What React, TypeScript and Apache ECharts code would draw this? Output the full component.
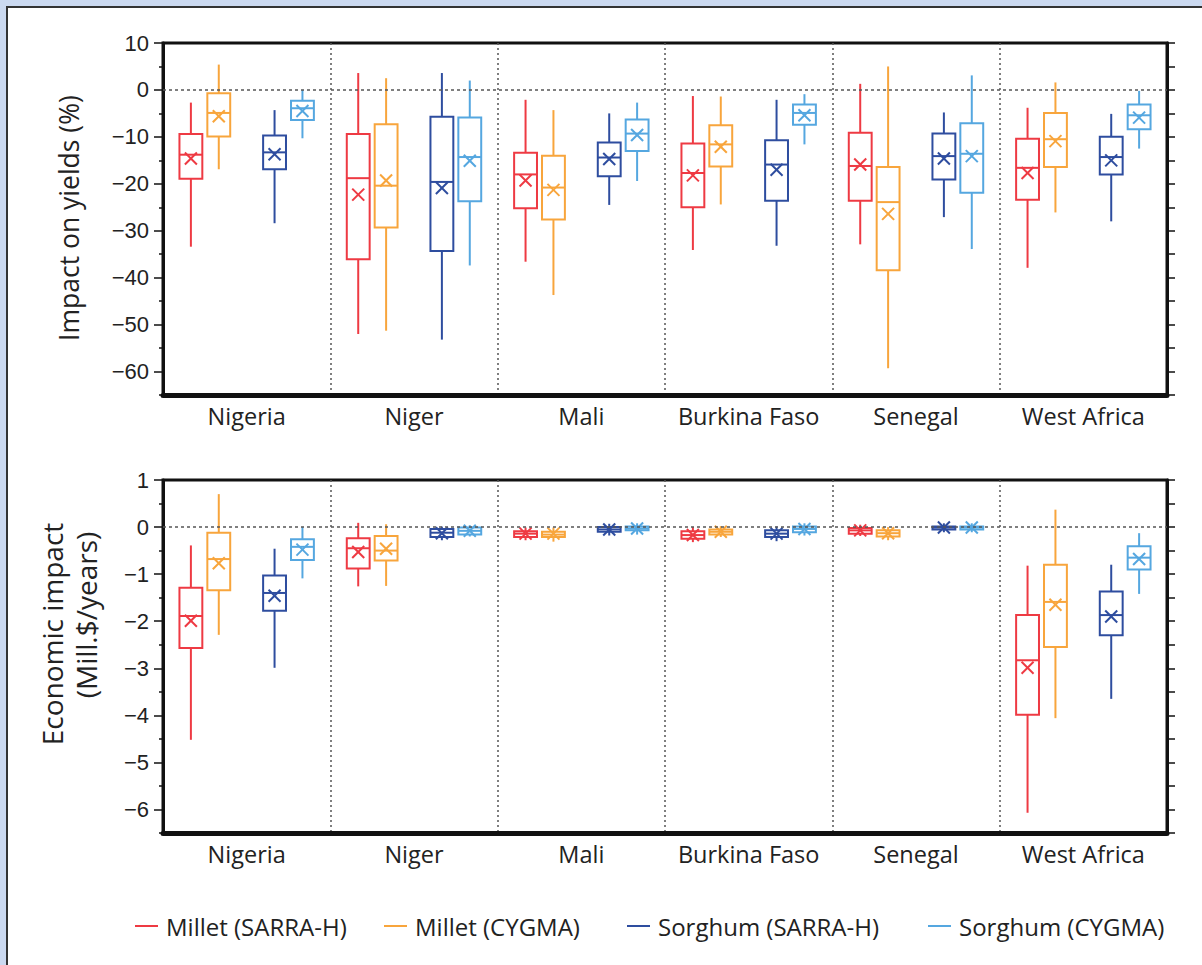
import React, { useEffect, useRef } from "react";
import * as echarts from "echarts";

const countries = ["Nigeria", "Niger", "Mali", "Burkina Faso", "Senegal", "West Africa"];
const seriesNames = ["Millet (SARRA-H)", "Millet (CYGMA)", "Sorghum (SARRA-H)", "Sorghum (CYGMA)"];
const colors = ["#ee3a43", "#f8a53c", "#2e4d9f", "#55a7e0"];

// rows per country: [min, q1, median, q3, max, mean]
const milletSarraYield = [
  [-33.4, -18.9, -13.8, -9.4, -2.7, -14.6],
  [-52.0, -36.1, -18.8, -9.4, 3.6, -22.3],
  [-36.6, -25.2, -18.0, -13.4, -2.1, -19.3],
  [-34.1, -25.0, -17.7, -11.4, -1.3, -18.2],
  [-32.9, -23.6, -16.2, -9.1, 1.3, -15.9],
  [-37.9, -23.4, -16.6, -10.4, -3.8, -17.7],
];
const milletCygmaYield = [
  [-16.9, -9.9, -4.9, -0.7, 5.4, -5.6],
  [-51.3, -29.3, -20.4, -7.3, 2.5, -19.3],
  [-43.7, -27.6, -20.8, -14.0, -4.3, -21.3],
  [-24.4, -16.3, -11.6, -7.5, -1.4, -12.1],
  [-59.3, -38.4, -23.9, -16.4, 5.0, -26.4],
  [-26.1, -16.4, -10.5, -4.9, 1.6, -10.9],
];
const sorghumSarraYield = [
  [-28.4, -16.9, -13.3, -9.7, -4.3, -13.7],
  [-53.2, -34.3, -19.6, -5.7, 3.6, -20.9],
  [-24.5, -18.4, -14.4, -11.2, -5.0, -14.7],
  [-33.2, -23.6, -15.9, -10.7, -2.1, -17.0],
  [-27.1, -19.1, -14.1, -9.3, -4.8, -14.6],
  [-28.0, -18.0, -14.3, -10.0, -5.1, -15.0],
];
const sorghumCygmaYield = [
  [-10.3, -6.4, -3.9, -2.3, 0, -4.5],
  [-37.4, -23.7, -14.3, -5.9, 2.0, -15.1],
  [-19.4, -13.0, -9.3, -6.3, -2.7, -9.6],
  [-11.6, -7.4, -4.9, -3.1, -0.9, -5.4],
  [-33.9, -21.9, -13.6, -7.1, 3.1, -14.1],
  [-12.5, -8.4, -5.4, -3.1, -0.2, -5.9],
];

const milletSarraEcon = [
  [-4.52, -2.57, -1.89, -1.29, -0.39, -1.99],
  [-1.26, -0.88, -0.45, -0.24, 0.09, -0.53],
  [-0.28, -0.21, -0.14, -0.09, -0.01, -0.14],
  [-0.32, -0.25, -0.17, -0.09, 0.0, -0.17],
  [-0.19, -0.14, -0.07, -0.02, 0.05, -0.07],
  [-6.07, -3.99, -2.83, -1.87, -0.82, -2.99],
];
const milletCygmaEcon = [
  [-2.29, -1.34, -0.68, -0.12, 0.7, -0.77],
  [-1.25, -0.71, -0.5, -0.19, 0.06, -0.46],
  [-0.31, -0.21, -0.16, -0.1, -0.01, -0.14],
  [-0.21, -0.16, -0.1, -0.05, 0.02, -0.1],
  [-0.28, -0.2, -0.13, -0.07, 0.0, -0.13],
  [-4.06, -2.55, -1.59, -0.8, 0.37, -1.65],
];
const sorghumSarraEcon = [
  [-2.99, -1.78, -1.4, -1.03, -0.46, -1.46],
  [-0.28, -0.21, -0.12, -0.04, 0.01, -0.13],
  [-0.18, -0.1, -0.05, 0.0, 0.07, -0.05],
  [-0.3, -0.21, -0.14, -0.07, 0.01, -0.14],
  [-0.11, -0.05, -0.01, 0.01, 0.08, -0.01],
  [-3.65, -2.3, -1.87, -1.37, -0.8, -1.9],
];
const sorghumCygmaEcon = [
  [-1.09, -0.7, -0.42, -0.26, 0.0, -0.48],
  [-0.2, -0.16, -0.08, -0.01, 0.04, -0.08],
  [-0.16, -0.07, -0.03, 0.01, 0.08, -0.03],
  [-0.18, -0.11, -0.04, 0.01, 0.08, -0.04],
  [-0.11, -0.05, -0.01, 0.01, 0.08, -0.01],
  [-1.42, -0.9, -0.65, -0.41, -0.13, -0.68],
];

const yieldMajorTicks = [10, 0, -10, -20, -30, -40, -50, -60];
const yieldMinorTicks = [5, -5, -15, -25, -35, -45, -55, -65];
const econMajorTicks = [1, 0, -1, -2, -3, -4, -5, -6];
const econMinorTicks = [0.5, -0.5, -1.5, -2.5, -3.5, -4.5, -5.5, -6.5];

const yieldTitle = "Impact on yields (%)";
const econTitleLines = ["Economic impact", "(Mill.$/years)"];

const yieldSets = [milletSarraYield, milletCygmaYield, sorghumSarraYield, sorghumCygmaYield];
const econSets = [milletSarraEcon, milletCygmaEcon, sorghumSarraEcon, sorghumCygmaEcon];
const slots = [1, 2, 4, 5];

const TICK_FONT = "'Liberation Sans', Arial, sans-serif";
const LABEL_FONT = "'Open Sans', 'Noto Sans', sans-serif";

function fmt(v: number) {
  return String(v).replace("-", "\u2212");
}

function makeRender(slot: number, color: string) {
  return (params: any, api: any) => {
    const ci = api.value(0);
    const bw = api.size([1, 0])[0];
    const sw = bw / 6;
    const cx = api.coord([ci, 0])[0] + (slot - 3) * sw;
    const hw = sw * 0.41;
    const y = (k: number) => api.coord([ci, api.value(k)])[1];
    const yMin = y(1), yQ1 = y(2), yMed = y(3), yQ3 = y(4), yMax = y(5), yMean = y(6);
    const st = { stroke: color, lineWidth: 2, fill: "none" };
    const m = 6;
    return {
      type: "group",
      children: [
        { type: "line", shape: { x1: cx, y1: yMax, x2: cx, y2: yQ3 }, style: st },
        { type: "line", shape: { x1: cx, y1: yQ1, x2: cx, y2: yMin }, style: st },
        { type: "rect", shape: { x: cx - hw, y: yQ3, width: hw * 2, height: Math.max(yQ1 - yQ3, 1) }, style: st },
        { type: "line", shape: { x1: cx - hw, y1: yMed, x2: cx + hw, y2: yMed }, style: st },
        { type: "line", shape: { x1: cx - m, y1: yMean - m, x2: cx + m, y2: yMean + m }, style: st },
        { type: "line", shape: { x1: cx - m, y1: yMean + m, x2: cx + m, y2: yMean - m }, style: st },
      ],
    };
  };
}

const zeroLine = {
  silent: true,
  symbol: "none",
  label: { show: false },
  lineStyle: { type: [3, 3], color: "#555", width: 1.5 },
  data: [{ yAxis: 0 }],
};

function yAxesFor(gridIndex: number, min: number, max: number, major: number[], minor: number[]) {
  const all = [...major, ...minor].sort((a, b) => b - a);
  return [
    {
      gridIndex,
      type: "value",
      min,
      max,
      position: "left",
      axisLine: { show: true, onZero: false, lineStyle: { color: "#111", width: 3 } },
      axisTick: { show: true, inside: false, length: 9, customValues: major, lineStyle: { color: "#111", width: 1.5 } },
      axisLabel: { customValues: major, formatter: fmt, fontSize: 22, color: "#222", fontFamily: TICK_FONT, margin: 14 },
      splitLine: { show: false },
    },
    {
      gridIndex,
      type: "value",
      min,
      max,
      position: "left",
      axisLine: { show: false },
      axisTick: { show: true, inside: false, length: 4, customValues: minor, lineStyle: { color: "#111", width: 1.5 } },
      axisLabel: { show: false },
      splitLine: { show: false },
    },
    {
      gridIndex,
      type: "value",
      min,
      max,
      position: "right",
      axisLine: { show: true, onZero: false, lineStyle: { color: "#111", width: 3 } },
      axisTick: { show: true, inside: false, length: 8, customValues: all, lineStyle: { color: "#111", width: 1.5 } },
      axisLabel: { show: false },
      splitLine: { show: false },
    },
  ];
}

function xAxisFor(gridIndex: number) {
  return {
    gridIndex,
    type: "category",
    data: countries,
    boundaryGap: true,
    axisLine: { show: true, onZero: false, lineStyle: { color: "#111", width: 5 } },
    axisTick: { show: false },
    axisLabel: { interval: 0, fontSize: 23.5, color: "#222", fontFamily: LABEL_FONT, margin: 9 },
    splitLine: { show: true, interval: 0, lineStyle: { type: [2, 3], color: "#555", width: 1.5 } },
  };
}

function vText(text: string, x: number, y: number, size: number) {
  return {
    type: "text",
    x,
    y,
    rotation: Math.PI / 2,
    style: {
      text,
      align: "center",
      verticalAlign: "middle",
      fontSize: size,
      fontFamily: LABEL_FONT,
      fill: "#222",
    },
  };
}

export default function App() {
  const ref = useRef<HTMLDivElement>(null);
  useEffect(() => {
    if (!ref.current) return;
    const chart = echarts.init(ref.current, null, { renderer: "svg" });
    const series: any[] = [];
    [yieldSets, econSets].forEach((sets, gi) => {
      sets.forEach((rows, si) => {
        series.push({
          type: "custom",
          name: seriesNames[si],
          xAxisIndex: gi,
          yAxisIndex: gi * 3,
          itemStyle: { color: colors[si] },
          renderItem: makeRender(slots[si], colors[si]),
          encode: { x: 0, y: [1, 2, 3, 4, 5, 6] },
          data: rows.map((r, ci) => [ci, ...r]),
          markLine: si === 0 ? zeroLine : undefined,
          z: 3,
        });
      });
    });
    const legendLefts = [135, 384, 627, 928];
    chart.setOption({
      animation: false,
      grid: [
        { left: 163, top: 43, width: 1004, height: 352, show: true, borderColor: "#111", borderWidth: 3, backgroundColor: "transparent" },
        { left: 163, top: 480, width: 1004, height: 353, show: true, borderColor: "#111", borderWidth: 3, backgroundColor: "transparent" },
      ],
      xAxis: [xAxisFor(0), xAxisFor(1)],
      yAxis: [
        ...yAxesFor(0, -65, 10, yieldMajorTicks, yieldMinorTicks),
        ...yAxesFor(1, -6.5, 1, econMajorTicks, econMinorTicks),
      ],
      graphic: [
        vText(yieldTitle, 69, 218, 26.5),
        vText(econTitleLines[0], 52, 634, 28),
        vText(econTitleLines[1], 86, 615, 28),
      ],
      legend: seriesNames.map((n, i) => ({
        data: [{ name: n, itemStyle: { color: colors[i] } }],
        left: legendLefts[i],
        top: 914,
        padding: 0,
        icon: "rect",
        itemWidth: 23,
        itemHeight: 2,
        selectedMode: false,
        textStyle: { fontSize: 24, fontFamily: LABEL_FONT, color: "#222", padding: [0, 0, 0, 3] },
      })),
      series,
    });
    return () => chart.dispose();
  }, []);
  return (
    <div style={{ position: "fixed", left: 0, top: 0, width: 1202, height: 965, background: "#cbd9f0", overflow: "hidden" }}>
      <div
        style={{
          position: "absolute",
          left: 6,
          top: 6,
          right: 0,
          bottom: 0,
          background: "#fff",
          borderTop: "2px solid #333",
          borderLeft: "2px solid #333",
        }}
      />
      <div ref={ref} style={{ position: "absolute", left: 0, top: 0, width: 1202, height: 965 }} />
    </div>
  );
}
